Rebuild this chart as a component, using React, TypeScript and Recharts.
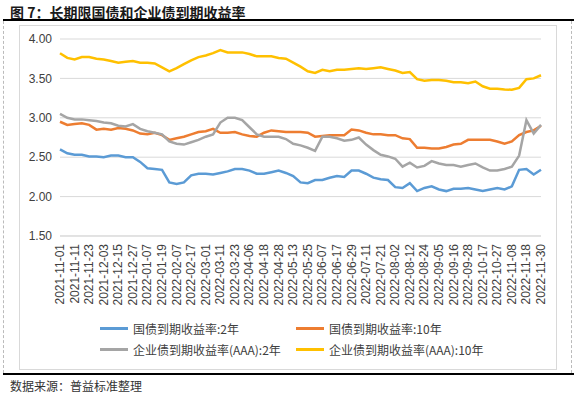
import React from "react";
import { LineChart, Line, XAxis, YAxis, CartesianGrid } from "recharts";

// tick labels, one every 8 trading days
const TICK_LABELS = [
  "2021-11-01", "2021-11-11", "2021-11-23", "2021-12-03", "2021-12-15", "2021-12-27",
  "2022-01-07", "2022-01-19", "2022-02-07", "2022-02-17", "2022-03-01", "2022-03-11",
  "2022-03-23", "2022-04-06", "2022-04-18", "2022-04-28", "2022-05-13", "2022-05-25",
  "2022-06-07", "2022-06-17", "2022-06-29", "2022-07-11", "2022-07-21", "2022-08-02",
  "2022-08-12", "2022-08-24", "2022-09-05", "2022-09-16", "2022-09-28", "2022-10-17",
  "2022-10-27", "2022-11-08", "2022-11-18", "2022-11-30",
];

// sampled every 4 trading days
const GOV_2Y = [
  2.60, 2.55, 2.53, 2.53, 2.51, 2.51, 2.50, 2.52, 2.52, 2.50, 2.50, 2.44, 2.36, 2.35, 2.34, 2.18,
  2.16, 2.18, 2.27, 2.29, 2.29, 2.28, 2.30, 2.32, 2.35, 2.35, 2.33, 2.29, 2.29, 2.31, 2.33, 2.30,
  2.26, 2.18, 2.17, 2.21, 2.21, 2.24, 2.26, 2.25, 2.33, 2.33, 2.29, 2.24, 2.22, 2.21, 2.12, 2.11,
  2.17, 2.07, 2.11, 2.13, 2.09, 2.07, 2.10, 2.10, 2.11, 2.09, 2.07, 2.09, 2.11, 2.09, 2.13, 2.34,
  2.35, 2.28, 2.34,
];
const GOV_10Y = [
  2.95, 2.91, 2.92, 2.93, 2.91, 2.85, 2.86, 2.85, 2.87, 2.86, 2.84, 2.80, 2.79, 2.81, 2.78, 2.72,
  2.74, 2.76, 2.79, 2.82, 2.83, 2.86, 2.81, 2.81, 2.82, 2.79, 2.77, 2.76, 2.81, 2.84, 2.83, 2.82,
  2.82, 2.82, 2.81, 2.76, 2.77, 2.78, 2.78, 2.78, 2.85, 2.84, 2.81, 2.79, 2.79, 2.78, 2.78, 2.74,
  2.73, 2.62, 2.62, 2.61, 2.61, 2.63, 2.66, 2.67, 2.72, 2.72, 2.72, 2.72, 2.70, 2.67, 2.70, 2.78,
  2.82, 2.84, 2.90,
];
const CORP_2Y = [
  3.05, 3.00, 2.98, 2.98, 2.97, 2.96, 2.94, 2.93, 2.90, 2.89, 2.92, 2.86, 2.83, 2.81, 2.79, 2.70,
  2.67, 2.66, 2.69, 2.72, 2.76, 2.79, 2.94, 3.00, 3.00, 2.97, 2.88, 2.79, 2.76, 2.76, 2.76, 2.73,
  2.67, 2.65, 2.62, 2.58, 2.76, 2.76, 2.74, 2.71, 2.72, 2.75, 2.66, 2.59, 2.53, 2.51, 2.48, 2.38,
  2.43, 2.37, 2.39, 2.45, 2.42, 2.40, 2.40, 2.38, 2.40, 2.42, 2.37, 2.33, 2.33, 2.35, 2.38, 2.52,
  2.97, 2.80, 2.91,
];
const CORP_10Y = [
  3.82, 3.76, 3.74, 3.77, 3.77, 3.75, 3.74, 3.72, 3.70, 3.71, 3.72, 3.70, 3.70, 3.69, 3.64, 3.59,
  3.63, 3.68, 3.73, 3.77, 3.79, 3.82, 3.86, 3.83, 3.83, 3.83, 3.81, 3.78, 3.78, 3.78, 3.76, 3.75,
  3.70, 3.65, 3.59, 3.57, 3.61, 3.59, 3.61, 3.61, 3.62, 3.63, 3.62, 3.63, 3.64, 3.62, 3.60, 3.57,
  3.58, 3.49, 3.47, 3.48, 3.48, 3.47, 3.45, 3.45, 3.44, 3.46, 3.40, 3.37, 3.37, 3.36, 3.355, 3.38,
  3.49, 3.50, 3.54,
];

const SERIES = [
  { key: "gov2", name: "国债到期收益率:2年", color: "#5B9BD5", values: GOV_2Y },
  { key: "gov10", name: "国债到期收益率:10年", color: "#ED7D31", values: GOV_10Y },
  { key: "corp2", name: "企业债到期收益率(AAA):2年", color: "#A5A5A5", values: CORP_2Y },
  { key: "corp10", name: "企业债到期收益率(AAA):10年", color: "#FFC000", values: CORP_10Y },
];

const data = GOV_2Y.map((_, k) => {
  const row: Record<string, number> = { day: k * 4 };
  SERIES.forEach((s) => (row[s.key] = s.values[k]));
  return row;
});

const X_TICKS = TICK_LABELS.map((_, i) => i * 8);

const CJK = '"Noto Sans CJK SC", "Noto Sans", sans-serif';
const LATIN = '"Liberation Sans", Arial, sans-serif';

function DateTick(props: any) {
  const { x, y, payload } = props;
  return (
    <text
      x={x}
      y={y}
      dy={4}
      transform={`rotate(-90, ${x}, ${y})`}
      textAnchor="end"
      fontSize={12}
      fontFamily={LATIN}
      fill="#404040"
    >
      {TICK_LABELS[payload.value / 8]}
    </text>
  );
}

export default function App() {
  return (
    <div style={{ position: "relative", width: 577, height: 396, background: "#fff", overflow: "hidden" }}>
      <style>{"body{margin:0}"}</style>
      <div
        style={{
          position: "absolute",
          left: 10,
          top: 2,
          fontFamily: CJK,
          fontWeight: 700,
          fontSize: 14,
          color: "#1a1a1a",
          whiteSpace: "nowrap",
        }}
      >
        图 7：长期限国债和企业债到期收益率
      </div>
      <div style={{ position: "absolute", left: 3, top: 19, width: 571, height: 2, background: "#000" }} />
      <div style={{ position: "absolute", left: 3, top: 21, height: 352, borderLeft: "1px dashed #bbb" }} />
      <div style={{ position: "absolute", left: 571, top: 21, height: 352, borderLeft: "1px dashed #bbb" }} />
      <div
        style={{
          position: "absolute",
          left: 19,
          top: 25,
          width: 536,
          height: 343,
          border: "1px solid #d9d9d9",
        }}
      />
      <div style={{ position: "absolute", left: 0, top: 0 }}>
        <LineChart width={577} height={320} data={data} margin={{ top: 39, right: 36, bottom: 14, left: 0 }}>
          <CartesianGrid vertical={false} stroke="#d9d9d9" />
          <XAxis
            dataKey="day"
            type="number"
            domain={[0, 264]}
            ticks={X_TICKS}
            interval={0}
            height={70}
            tickLine={false}
            axisLine={{ stroke: "#d9d9d9" }}
            tick={<DateTick />}
          />
          <YAxis
            domain={[1.5, 4]}
            ticks={[1.5, 2, 2.5, 3, 3.5, 4]}
            width={60}
            axisLine={false}
            tickLine={false}
            tickFormatter={(v: number) => v.toFixed(2)}
            tick={{ fontSize: 12, fill: "#404040", fontFamily: LATIN }}
          />
          {SERIES.map((s) => (
            <Line
              key={s.key}
              dataKey={s.key}
              stroke={s.color}
              strokeWidth={2.5}
              dot={false}
              isAnimationActive={false}
            />
          ))}
        </LineChart>
      </div>
      {SERIES.map((s, i) => {
        const col = i % 2;
        const row = Math.floor(i / 2);
        const left = col === 0 ? 100 : 296;
        const top = row === 0 ? 328 : 349;
        return (
          <div key={s.key} style={{ position: "absolute", left, top: top - 8, height: 16, display: "flex", alignItems: "center" }}>
            <div style={{ width: 28, height: 3, background: s.color, marginRight: 5 }} />
            <span style={{ fontFamily: CJK, fontSize: 12, color: "#404040", whiteSpace: "nowrap" }}>{s.name}</span>
          </div>
        );
      })}
      <div style={{ position: "absolute", left: 3, top: 373, width: 571, height: 2, background: "#000" }} />
      <div
        style={{
          position: "absolute",
          left: 10,
          top: 377,
          fontFamily: CJK,
          fontSize: 12,
          color: "#333",
          whiteSpace: "nowrap",
        }}
      >
        数据来源：普益标准整理
      </div>
    </div>
  );
}
